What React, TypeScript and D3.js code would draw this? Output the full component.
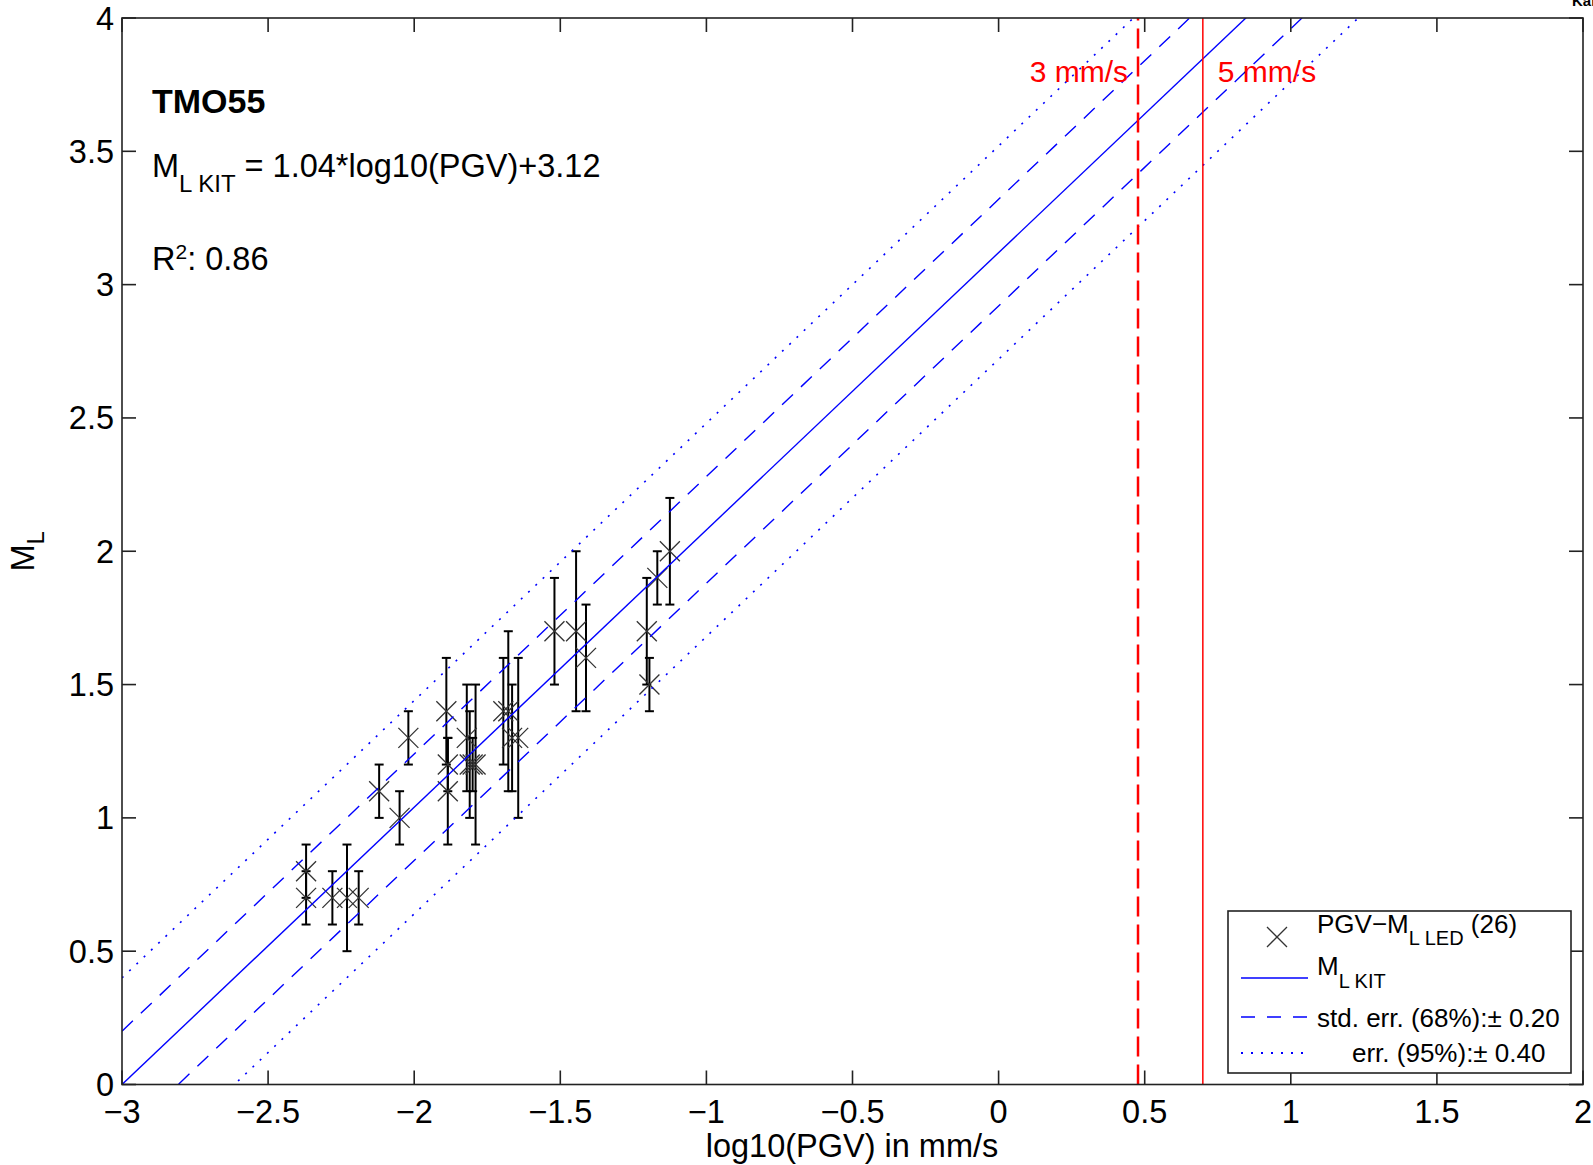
import React from "react";
import * as d3 from "d3";

// Station TMO55: log10(PGV) vs. local magnitude with regression and error bands
const logPGV = [
  -2.37, -2.37, -2.28, -2.23, -2.19, -2.12, -2.05, -2.02, -1.89, -1.885,
  -1.885, -1.82, -1.81, -1.80, -1.79, -1.695, -1.678, -1.665, -1.644, -1.52,
  -1.446, -1.412, -1.204, -1.195, -1.168, -1.125,
];
const magnitude = [
  0.8, 0.7, 0.7, 0.7, 0.7, 1.1, 1.0, 1.3, 1.4, 1.2,
  1.1, 1.3, 1.2, 1.2, 1.2, 1.4, 1.4, 1.3, 1.3, 1.7,
  1.7, 1.6, 1.7, 1.5, 1.9, 2.0,
];
const magLow = [
  0.7, 0.6, 0.6, 0.5, 0.6, 1.0, 0.9, 1.2, 1.2, 1.1,
  0.9, 1.1, 1.0, 1.1, 0.9, 1.2, 1.1, 1.1, 1.0, 1.5,
  1.4, 1.4, 1.5, 1.4, 1.8, 1.8,
];
const magHigh = [
  0.9, 0.8, 0.8, 0.9, 0.8, 1.2, 1.1, 1.4, 1.6, 1.3,
  1.3, 1.5, 1.4, 1.3, 1.5, 1.6, 1.7, 1.5, 1.6, 1.9,
  2.0, 1.8, 1.9, 1.6, 2.0, 2.2,
];

const slope = 1.04;
const intercept = 3.12;
const stdErr = 0.2;
const err95 = 0.4;

const xTicks = [-3, -2.5, -2, -1.5, -1, -0.5, 0, 0.5, 1, 1.5, 2];
const yTicks = [0, 0.5, 1, 1.5, 2, 2.5, 3, 3.5, 4];

// thresholds in mm/s
const thresholds = [3, 5];

const W = 1593;
const H = 1165;
const left = 122;
const right = 1583;
const top = 18;
const bottom = 1084.5;

const FONT = "'Liberation Sans', Arial, Helvetica, sans-serif";
const BLUE = "#0000ff";
const RED = "#ff0000";

export default function App() {
  const x = d3.scaleLinear().domain([-3, 2]).range([left, right]);
  const y = d3.scaleLinear().domain([0, 4]).range([bottom, top]);
  const fmt = d3.format("~g");

  const fitLine = (offset: number) =>
    d3
      .line<number>()
      .x((d) => x(d))
      .y((d) => y(slope * d + intercept + offset))([-3, 2]) as string;

  const bands = [
    { off: 0, dash: undefined as string | undefined },
    { off: stdErr, dash: "15 11" },
    { off: -stdErr, dash: "15 11" },
    { off: err95, dash: "2 8" },
    { off: -err95, dash: "2 8" },
  ];

  const cross = (cx: number, cy: number, s: number, key: string) => (
    <path
      key={key}
      d={`M${cx - s},${cy - s}L${cx + s},${cy + s}M${cx - s},${cy + s}L${cx + s},${cy - s}`}
      stroke="#333"
      strokeWidth={1.3}
      fill="none"
    />
  );

  const tickLen = 14;
  const capW = 4.5;

  const lx0 = 1228;
  const ly0 = 911;
  const lx1 = 1571;
  const ly1 = 1073;

  return (
    <svg
      width={W}
      height={H}
      style={{ position: "absolute", left: 0, top: 0, background: "#fff" }}
      fontFamily={FONT}
    >
      <defs>
        <clipPath id="plotClip">
          <rect x={left} y={top} width={right - left} height={bottom - top} />
        </clipPath>
      </defs>
      <rect x={0} y={0} width={W} height={H} fill="#fff" />

      {/* header fragment at page edge */}
      <text x={1572} y={6} fontSize={15} fontWeight="bold" fill="#000">
        Kar
      </text>

      {/* data with error bars */}
      <g clipPath="url(#plotClip)">
        {logPGV.map((v, i) => {
          const cx = x(v);
          const y0 = y(magLow[i]);
          const y1 = y(magHigh[i]);
          return (
            <g key={`eb${i}`} stroke="#000" strokeWidth={2}>
              <line x1={cx} x2={cx} y1={y0} y2={y1} />
              <line x1={cx - capW} x2={cx + capW} y1={y0} y2={y0} />
              <line x1={cx - capW} x2={cx + capW} y1={y1} y2={y1} />
            </g>
          );
        })}
        {logPGV.map((v, i) => cross(x(v), y(magnitude[i]), 10, `c${i}`))}

        {/* regression and error bands */}
        {bands.map((b, i) => (
          <path
            key={`b${i}`}
            d={fitLine(b.off)}
            stroke={BLUE}
            strokeWidth={b.dash === "2 8" ? 1.6 : 1.4}
            strokeDasharray={b.dash}
            fill="none"
          />
        ))}

        {/* PGV thresholds */}
        <line
          x1={x(Math.log10(thresholds[0]))}
          x2={x(Math.log10(thresholds[0]))}
          y1={bottom}
          y2={top}
          stroke={RED}
          strokeWidth={2.5}
          strokeDasharray="20 8"
        />
        <line
          x1={x(Math.log10(thresholds[1]))}
          x2={x(Math.log10(thresholds[1]))}
          y1={bottom}
          y2={top}
          stroke={RED}
          strokeWidth={1.5}
        />
      </g>

      <text
        x={x(Math.log10(thresholds[0])) - 10}
        y={82}
        fontSize={30}
        fill={RED}
        textAnchor="end"
      >
        {`${thresholds[0]} mm/s`}
      </text>
      <text x={x(Math.log10(thresholds[1])) + 15} y={82} fontSize={30} fill={RED}>
        {`${thresholds[1]} mm/s`}
      </text>

      {/* annotations */}
      <text x={152} y={113} fontSize={34} fontWeight="bold" fill="#000">
        TMO55
      </text>
      <text x={152} y={177} fontSize={32.5} fill="#000">
        M
        <tspan fontSize={24} dy={15}>L KIT</tspan>
        <tspan fontSize={32.5} dy={-15}>{" = 1.04*log10(PGV)+3.12"}</tspan>
      </text>
      <text x={152} y={270} fontSize={32.5} fill="#000">
        R
        <tspan fontSize={21} dy={-11}>2</tspan>
        <tspan fontSize={32.5} dy={11}>: 0.86</tspan>
      </text>

      {/* frame */}
      <rect
        x={left}
        y={top}
        width={right - left}
        height={bottom - top}
        fill="none"
        stroke="#222"
        strokeWidth={1.6}
      />

      {/* ticks */}
      {xTicks.map((t) => (
        <g key={`xt${t}`} stroke="#222" strokeWidth={1.6}>
          <line x1={x(t)} x2={x(t)} y1={bottom} y2={bottom - tickLen} />
          <line x1={x(t)} x2={x(t)} y1={top} y2={top + tickLen} />
        </g>
      ))}
      {yTicks.map((t) => (
        <g key={`yt${t}`} stroke="#222" strokeWidth={1.6}>
          <line x1={left} x2={left + tickLen} y1={y(t)} y2={y(t)} />
          <line x1={right} x2={right - tickLen} y1={y(t)} y2={y(t)} />
        </g>
      ))}
      {xTicks.map((t) => (
        <text
          key={`xl${t}`}
          x={x(t)}
          y={1123}
          fontSize={32.5}
          textAnchor="middle"
          fill="#000"
        >
          {fmt(t)}
        </text>
      ))}
      {yTicks.map((t) => (
        <text
          key={`yl${t}`}
          x={114}
          y={y(t) + 11.5}
          fontSize={32.5}
          textAnchor="end"
          fill="#000"
        >
          {fmt(t)}
        </text>
      ))}

      {/* axis titles */}
      <text x={852} y={1157} fontSize={32.5} textAnchor="middle" fill="#000">
        log10(PGV) in mm/s
      </text>
      <text
        transform={`translate(34, ${(top + bottom) / 2}) rotate(-90)`}
        fontSize={32.5}
        textAnchor="middle"
        fill="#000"
      >
        M<tspan fontSize={24} dy={10}>L</tspan>
      </text>

      {/* legend */}
      <rect
        x={lx0}
        y={ly0}
        width={lx1 - lx0}
        height={ly1 - ly0}
        fill="#fff"
        stroke="#222"
        strokeWidth={1.6}
      />
      {cross(1277, 937, 10, "legCross")}
      <text x={1317} y={933} fontSize={26} fill="#000">
        PGV−M
        <tspan fontSize={20} dy={12}>L LED</tspan>
        <tspan fontSize={26} dy={-12}>{" (26)"}</tspan>
      </text>
      <line x1={1241} x2={1308} y1={978} y2={978} stroke={BLUE} strokeWidth={1.6} />
      <text x={1317} y={975} fontSize={26} fill="#000">
        M<tspan fontSize={20} dy={13}>L KIT</tspan>
      </text>
      <line
        x1={1241}
        x2={1308}
        y1={1017}
        y2={1017}
        stroke={BLUE}
        strokeWidth={1.6}
        strokeDasharray="14 12"
      />
      <text x={1317} y={1027} fontSize={26} fill="#000">
        std. err. (68%):± 0.20
      </text>
      <line
        x1={1241}
        x2={1308}
        y1={1053}
        y2={1053}
        stroke={BLUE}
        strokeWidth={1.8}
        strokeDasharray="2 8"
      />
      <text x={1352} y={1062} fontSize={26} fill="#000">
        err. (95%):± 0.40
      </text>
    </svg>
  );
}
